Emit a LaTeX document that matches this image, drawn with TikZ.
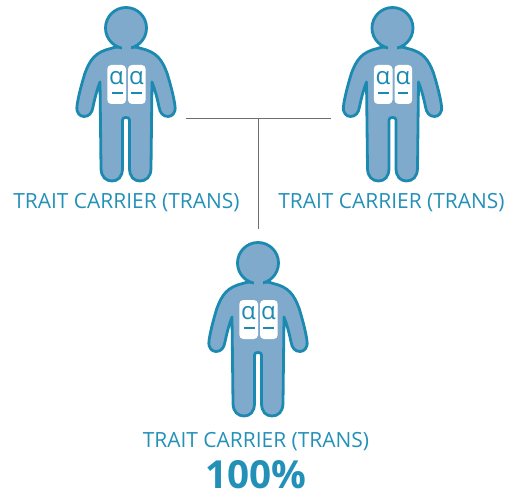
\documentclass[tikz,border=0pt]{standalone}
\usepackage{fontspec}
\setmainfont{Open Sans}
\definecolor{carrierline}{RGB}{28,138,176}
\definecolor{carrierfill}{RGB}{127,170,203}
\definecolor{carriertext}{RGB}{35,144,184}
\definecolor{linkgray}{RGB}{110,110,110}
\tikzset{
  bodyline/.style={draw=carrierline,fill=carrierfill,line width=2.1pt,line join=round},
  chromo/.style={fill=white,rounded corners=3pt},
  allele/.style={text=carrierline,font=\fontsize{18}{18}\selectfont,inner sep=0pt},
  dash line/.style={draw=carrierline,line width=1.6pt},
  caption/.style={text=carriertext,font=\fontsize{15.7}{17}\selectfont,inner sep=0pt},
  link/.style={draw=linkgray,line width=0.5pt},
  person/.pic={
    \path[bodyline] (-6,47) .. controls (-14,47.5) and (-12,47.5) .. (-15,48.5)
      .. controls (-31,52) and (-36,60) .. (-41,73)
      .. controls (-45,86) and (-48,98) .. (-49,106)
      .. controls (-50,113) and (-46,116.5) .. (-42,116.5)
      .. controls (-37,116.5) and (-34,113) .. (-33,107)
      .. controls (-31,97) and (-29,90) .. (-26,82)
      -- (-25,168) .. controls (-25,177) and (-20,181) .. (-14,181)
      .. controls (-8,181) and (-3.5,177) .. (-3.5,168)
      -- (-3.5,120) .. controls (-3.5,118) and (-2,117.5) .. (0,117.5)
      .. controls (2,117.5) and (3.5,118) .. (3.5,120)
      -- (3.5,168) .. controls (3.5,177) and (8,181) .. (14,181)
      .. controls (20,181) and (25,177) .. (25,168)
      -- (26,82) .. controls (29,90) and (31,97) .. (33,107)
      .. controls (34,113) and (37,116.5) .. (42,116.5)
      .. controls (46,116.5) and (50,113) .. (49,106)
      .. controls (48,98) and (45,86) .. (41,73)
      .. controls (36,60) and (31,52) .. (15,48.5)
      .. controls (12,47.5) and (14,47.5) .. (6,47) -- cycle;
    \path[bodyline] (0,28) circle[radius=20.5];
    \fill[carrierfill] (-4.5,43) rectangle (4.5,52);
    \path[chromo] (-18.7,65) rectangle (0,104);
    \path[chromo] (2,65) rectangle (19.7,104);
    \node[allele] (-aleft) at (-9.5,78) {α};
    \node[allele] (-aright) at (10.5,78) {α};
    \draw[dash line] (-14.3,93) -- (-3.3,93);
    \draw[dash line] (5,93) -- (15.7,93);
  }
}
\begin{document}
\begin{tikzpicture}[x=0.75pt,y=-0.75pt]
  \useasboundingbox (0,0) rectangle (506,495);
  % --- parents
  \pic (mother) at (126,0) {person};
  \pic (father) at (392.5,0) {person};
  \node[caption] (mothertext) at (126.5,203) {TRAIT CARRIER (TRANS)};
  \node[caption] (fathertext) at (391.5,203) {TRAIT CARRIER (TRANS)};
  % --- child
  \pic (child) at (258,235) {person};
  \node[caption] (childtext) at (256,442) {TRAIT CARRIER (TRANS)};
  \node[text=carriertext,font=\fontsize{29}{30}\selectfont\bfseries,inner sep=0pt] (percent) at (256,475) {100\%};
  % --- links
  \coordinate (motherend) at (186,118);
  \coordinate (fatherend) at (331,118);
  \coordinate (junction) at (258,118);
  \coordinate (childend) at (258,229);
  \draw[link] (motherend) -- (fatherend);
  \draw[link] (junction) -- (childend);
\end{tikzpicture}
\end{document}
